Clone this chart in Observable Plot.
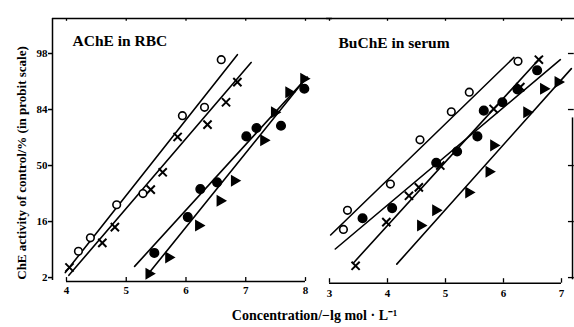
<!DOCTYPE html>
<html><head><meta charset="utf-8">
<script src="https://cdn.jsdelivr.net/npm/d3@7"></script>
<script src="https://cdn.jsdelivr.net/npm/@observablehq/plot@0.6"></script>
<style>
body{margin:0;background:#fff}
#wrap{position:relative;width:574px;height:327px;overflow:hidden;background:#fff}
#wrap svg{position:absolute;left:0;top:0}
</style></head><body><div id="wrap"></div>
<script>
// Y values are in probit units (normal equivalent deviates); ticks labelled in %
const yTicks = [-2, -1, 0, 1, 2];
const yLabels = ["2", "16", "50", "84", "98"];
const xTicksL = [4, 5, 6, 7, 8];
const xTicksR = [3, 4, 5, 6, 7];
const titleL = "AChE in RBC";
const titleR = "BuChE in serum";
const xLabel = "Concentration/\u2212lg mol \u00b7 L\u207b\u00b9";
const yLabel = "ChE activity of control/% (in probit scale)";

// ---- AChE in RBC (left panel) ----
const acheOpenX = [4.20, 4.40, 4.84, 5.28, 5.94, 6.31, 6.59];
const acheOpenY = [-1.53, -1.29, -0.70, -0.50, 0.89, 1.04, 1.89];
const acheCrossX = [4.05, 4.60, 4.81, 5.41, 5.61, 5.86, 6.36, 6.67, 6.86];
const acheCrossY = [-1.82, -1.38, -1.10, -0.43, -0.12, 0.51, 0.73, 1.13, 1.49];
const acheFilledX = [5.47, 6.03, 6.24, 6.52, 7.01, 7.18, 7.59, 7.98];
const acheFilledY = [-1.56, -0.92, -0.42, -0.30, 0.52, 0.67, 0.71, 1.37];
const acheTriX = [5.38, 5.71, 6.21, 6.57, 6.81, 7.30, 7.48, 7.72, 7.97];
const acheTriY = [-1.93, -1.64, -1.07, -0.63, -0.27, 0.45, 0.95, 1.31, 1.55];
// fitted lines (end points)
const acheOpenLineX = [3.98, 6.86], acheOpenLineY = [-1.91, 1.98];
const acheCrossLineX = [4.04, 7.09], acheCrossLineY = [-1.96, 1.84];
const acheFilledLineX = [5.14, 8.03], acheFilledLineY = [-1.80, 1.58];
const acheTriLineX = [5.35, 8.00], acheTriLineY = [-1.96, 1.55];

// ---- BuChE in serum (right panel) ----
const buOpenX = [3.24, 3.31, 4.05, 4.56, 5.10, 5.41, 6.25];
const buOpenY = [-1.14, -0.80, -0.33, 0.46, 0.96, 1.31, 1.86];
const buFilledX = [3.57, 4.08, 4.84, 5.20, 5.55, 5.66, 5.98, 6.24, 6.58];
const buFilledY = [-0.94, -0.76, 0.05, 0.25, 0.52, 0.98, 1.13, 1.36, 1.70];
const buCrossX = [3.45, 3.98, 4.37, 4.54, 4.91, 5.83, 6.29, 6.61];
const buCrossY = [-1.79, -1.01, -0.54, -0.39, 0.00, 1.01, 1.40, 1.89];
const buTriX = [4.57, 4.83, 5.40, 5.75, 5.83, 6.40, 6.69, 6.94];
const buTriY = [-1.07, -0.80, -0.48, -0.11, 0.36, 0.95, 1.37, 1.49];
const buOpenLineX = [3.02, 6.18], buOpenLineY = [-1.24, 1.93];
const buFilledLineX = [3.10, 6.98], buFilledLineY = [-1.49, 1.89];
const buCrossLineX = [3.42, 6.64], buCrossLineY = [-1.73, 1.93];
const buTriLineX = [4.16, 7.17], buTriLineY = [-1.76, 1.73];

const zip = (xs, ys) => xs.map((x, i) => ({x, y: ys[i]}));

const W = 574, H = 327, mL = 52, mT = 18, mB = 46, mR = 2;
const yDomain = [-2.07, 2.625];
const yBottom = yDomain[0], yTop = yDomain[1];
const font = "Liberation Serif, Times New Roman, serif";

// frame limits (in data units of each panel)
const xLeftEdge = 3.766, xLeftTopEnd = 8.45;
const xRightTopStart = 2.95, xRightTopEnd = 7.25, xRightEdge = 7.19;

function seriesMarks(open, cross, filled, tri, lines) {
  return [
    ...lines.map(l => Plot.line(l, {x: "x", y: "y", stroke: "black", strokeWidth: 1.6})),
    Plot.dot(open, {x: "x", y: "y", r: 3.8, stroke: "black", fill: "white", strokeWidth: 1.6}),
    Plot.dot(filled, {x: "x", y: "y", r: 4.3, fill: "black", stroke: "black"}),
    Plot.dot(cross, {x: "x", y: "y", r: 3.8, symbol: "times", stroke: "black", strokeWidth: 2}),
    Plot.dot(tri, {x: "x", y: "y", r: 3.5, symbol: "triangle", rotate: 90, fill: "black", stroke: "black"})
  ];
}

const left = Plot.plot({
  width: W, height: H, marginLeft: mL, marginTop: mT, marginBottom: mB, marginRight: mR,
  style: {fontFamily: font, background: "white", overflow: "visible"},
  x: {domain: [xLeftEdge, 8], range: [mL, 305], axis: null},
  y: {domain: yDomain, range: [H - mB, mT], axis: null},
  marks: [
    Plot.ruleX([xLeftEdge], {y1: yBottom + 0.02, y2: yTop, strokeWidth: 1.5}),
    Plot.ruleY([yBottom], {x1: 4, x2: 8, strokeWidth: 1.5}),
    Plot.ruleY([yTop], {x1: xLeftEdge, x2: xLeftTopEnd, strokeWidth: 1.5}),
    Plot.ruleX(xTicksL, {y1: yBottom, y2: yBottom + 0.07, strokeWidth: 1.3}),
    Plot.ruleX(xTicksL, {y1: yTop, y2: yTop - 0.05, strokeWidth: 1.3}),
    Plot.axisY({ticks: yTicks, tickFormat: d => yLabels[yTicks.indexOf(d)], tickSize: 4, tickPadding: 1,
      fontSize: 11, fontWeight: "bold", strokeWidth: 1.5, label: null}),
    Plot.axisX({ticks: xTicksL, tickFormat: d => String(d), tickSize: 0, tickPadding: 5,
      fontSize: 11, fontWeight: "bold", label: null}),
    Plot.text([titleL], {frameAnchor: "top-left", dx: 20, dy: 16, fontSize: 15.5, fontWeight: "bold", textAnchor: "start"}),
    Plot.text([yLabel], {frameAnchor: "left", textAnchor: "middle", rotate: -90, dx: -31, dy: 13, fontSize: 13, fontWeight: "bold"}),
    Plot.text([xLabel], {frameAnchor: "bottom", textAnchor: "middle", dx: 2, dy: 38, fontSize: 14, fontWeight: "bold"}),
    ...seriesMarks(zip(acheOpenX, acheOpenY), zip(acheCrossX, acheCrossY), zip(acheFilledX, acheFilledY), zip(acheTriX, acheTriY),
      [zip(acheOpenLineX, acheOpenLineY), zip(acheCrossLineX, acheCrossLineY), zip(acheFilledLineX, acheFilledLineY), zip(acheTriLineX, acheTriLineY)])
  ]
});

const right = Plot.plot({
  width: W, height: H, marginLeft: mL, marginTop: mT, marginBottom: mB, marginRight: mR,
  style: {fontFamily: font, background: "transparent", overflow: "visible"},
  x: {domain: [3, 7], range: [329, 561], axis: null},
  y: {domain: yDomain, range: [H - mB, mT], axis: null},
  marks: [
    Plot.ruleY([yBottom - 0.03], {x1: 3, x2: 7, strokeWidth: 1.5}),
    Plot.ruleY([yTop], {x1: xRightTopStart, x2: xRightTopEnd, strokeWidth: 1.5}),
    Plot.ruleX([xRightEdge], {y1: yBottom + 0.03, y2: 0.85, strokeWidth: 1.5}),
    Plot.ruleY(yTicks, {x1: xRightEdge - 0.07, x2: xRightEdge + 0.03, strokeWidth: 1.3}),
    Plot.ruleX(xTicksR, {y1: yBottom - 0.03, y2: yBottom + 0.05, strokeWidth: 1.3}),
    Plot.ruleX(xTicksR, {y1: yTop, y2: yTop - 0.05, strokeWidth: 1.3}),
    Plot.text(xTicksR, {x: d => d, y: yBottom, dy: 12, fontSize: 11, fontWeight: "bold", text: d => String(d)}),
    Plot.text([titleR], {frameAnchor: "top-left", dx: 286, dy: 18, fontSize: 15.5, fontWeight: "bold", textAnchor: "start"}),
    ...seriesMarks(zip(buOpenX, buOpenY), zip(buCrossX, buCrossY), zip(buFilledX, buFilledY), zip(buTriX, buTriY),
      [zip(buOpenLineX, buOpenLineY), zip(buCrossLineX, buCrossLineY), zip(buFilledLineX, buFilledLineY), zip(buTriLineX, buTriLineY)])
  ]
});

const wrap = document.getElementById("wrap");
wrap.appendChild(left);
wrap.appendChild(right);
</script></body></html>
